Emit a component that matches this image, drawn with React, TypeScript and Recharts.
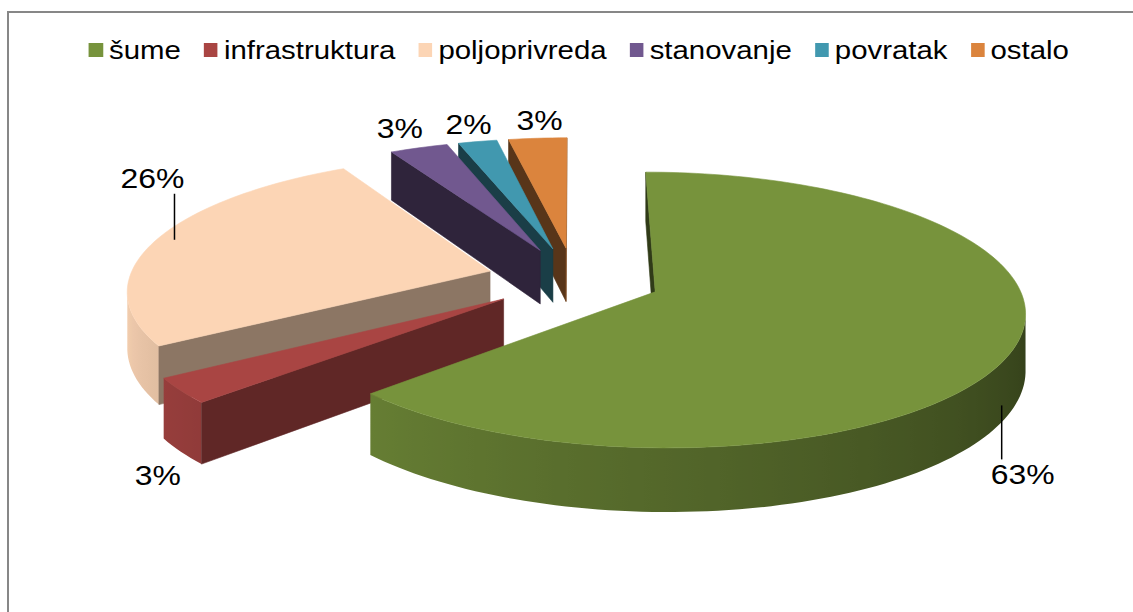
import { PieChart, Pie, Legend } from 'recharts'

// land use shares (%)
const NAMES = ['šume', 'infrastruktura', 'poljoprivreda', 'stanovanje', 'povratak', 'ostalo']
const SHARES = [63, 3, 26, 3, 2, 3]
const COLORS = ['#77933C', '#A94543', '#FCD5B5', '#71588F', '#4198AF', '#DB843D']

const data = NAMES.map((name, i) => ({ name, value: SHARES[i] }))

// 3d look
const CX = 574
const CY = 279
const RADIUS = 361
const FLAT = 0.366
const PERSP = 0.13
const DEPTH = 55
const EXPLODE = 0.242
const DRAW_ORDER = [5, 4, 3, 2, 1, 0]
const LABEL_GAP = [57, 13, 52, 10, 8, 8]
const LABEL_DX = [9, -23, -4, -19, -9, 2]
const LEADER_DX = [-21, 0, 22, 0, 0, 0]
const FONT = '"Liberation Sans", Arial, sans-serif'

const sind = (d: number) => Math.sin((d * Math.PI) / 180)
const cosd = (d: number) => Math.cos((d * Math.PI) / 180)

function shade(hex: string, k: number) {
  const n = parseInt(hex.slice(1), 16)
  const c = (v: number) => Math.min(255, Math.round(v * k))
  return `rgb(${c((n >> 16) & 255)},${c((n >> 8) & 255)},${c(n & 255)})`
}

function geometry(p: any) {
  const { cx, cy, outerRadius, startAngle, endAngle } = p
  // clockwise from 12 o'clock
  const t0 = 90 - startAngle
  const t1 = 90 - endAngle
  const tm = (t0 + t1) / 2
  const ou = EXPLODE * sind(tm)
  const ov = EXPLODE * cosd(tm)
  const proj = (u: number, v: number, h: number) => {
    const w = 1 / (1 + PERSP * v)
    return [cx + outerRadius * u * w, cy - outerRadius * FLAT * v * w + h * w]
  }
  const rim = (t: number, h: number) => proj(ou + sind(t), ov + cosd(t), h)
  return { t0, t1, tm, ou, ov, proj, rim }
}

const toPath = (pts: number[][]) =>
  pts.map((q, i) => `${i ? 'L' : 'M'}${q[0].toFixed(2)},${q[1].toFixed(2)}`).join('') + 'Z'

const wallLight = (t: number) => Math.max(0.35, Math.min(1, 0.4 + (0.5 * (t - 90)) / 150))

function Slice3D(p: any) {
  const color = COLORS[p.index]
  const { t0, t1, ou, ov, proj, rim } = geometry(p)
  const steps = Math.max(2, Math.ceil((t1 - t0) / 1.5))
  const ts = Array.from({ length: steps + 1 }, (_, k) => t0 + ((t1 - t0) * k) / steps)
  const seen = (t: number) => -cosd(t) / PERSP - (sind(t) * ou + cosd(t) * ov) - 1 > 0
  const wallTs = ts.filter(seen)

  const faces: { pts: number[][]; fill: string }[] = []
  const apexTop = proj(ou, ov, 0)
  const apexBot = proj(ou, ov, DEPTH)
  const cut = (t: number, nu: number, nv: number) => {
    const facing = nu * -ou + nv * (-1 / PERSP - ov)
    if (facing > 0) {
      faces.push({ pts: [apexTop, rim(t, 0), rim(t, DEPTH), apexBot], fill: shade(color, 0.5 + 0.1 * nu) })
    }
  }
  cut(t0, -cosd(t0), sind(t0))
  cut(t1, cosd(t1), -sind(t1))

  let wall = null
  if (wallTs.length > 1) {
    const topArc = wallTs.map((t) => rim(t, 0))
    const botArc = wallTs.map((t) => rim(t, DEPTH)).reverse()
    const xs = topArc.map((q) => q[0])
    const x1 = Math.min(...xs)
    const x2 = Math.max(...xs)
    const gid = `wall-${p.index}`
    const stops = wallTs
      .map((t, k) => ({ off: (xs[k] - x1) / Math.max(1, x2 - x1), col: shade(color, wallLight(t)) }))
      .sort((a, b) => a.off - b.off)
    wall = (
      <g>
        <defs>
          <linearGradient id={gid} gradientUnits="userSpaceOnUse" x1={x1} y1={0} x2={x2} y2={0}>
            {stops.map((s, k) => (
              <stop key={k} offset={s.off} stopColor={s.col} />
            ))}
          </linearGradient>
        </defs>
        <path d={toPath([...topArc, ...botArc])} fill={`url(#${gid})`} />
      </g>
    )
  }

  const top = [apexTop, ...ts.map((t) => rim(t, 0))]
  return (
    <g>
      {wall}
      {faces.map((f, i) => (
        <path key={i} d={toPath(f.pts)} fill={f.fill} stroke={f.fill} strokeWidth={0.6} strokeLinejoin="round" />
      ))}
      <path d={toPath(top)} fill={color} stroke={color} strokeWidth={0.6} strokeLinejoin="round" />
    </g>
  )
}

function PercentLabel(p: any) {
  const { tm, rim } = geometry(p)
  const i = p.index
  const gap = LABEL_GAP[i]
  const up = rim(tm, 0)
  const down = rim(tm, DEPTH)
  const front = cosd(tm) < 0
  const x = up[0] + LABEL_DX[i]
  const lx = x + LEADER_DX[i]
  const baseline = front ? down[1] + gap + 20 : up[1] - gap
  const leader = gap > 30
  return (
    <g>
      {leader && front && <line x1={lx} y1={down[1] - 2} x2={lx} y2={baseline - 25} stroke="#000" strokeWidth={1.5} />}
      {leader && !front && <line x1={lx} y1={up[1]} x2={lx} y2={baseline + 6} stroke="#000" strokeWidth={1.5} />}
      <text
        transform={`translate(${x},${baseline}) scale(1.14,1)`}
        textAnchor="middle"
        fontFamily={FONT}
        fontSize={28}
        fill="#000"
      >
        {`${Math.round(p.percent * 100)}%`}
      </text>
    </g>
  )
}

const renderLegend = () => (
  <div
    style={{
      display: 'flex',
      justifyContent: 'center',
      alignItems: 'center',
      transform: 'scaleX(1.13)',
      fontFamily: FONT,
      fontSize: 26,
      lineHeight: '30px',
      color: '#000',
    }}
  >
    {NAMES.map((n, i) => (
      <div key={n} style={{ display: 'flex', alignItems: 'center', marginRight: i < NAMES.length - 1 ? 20.4 : 0 }}>
        <span style={{ display: 'inline-block', width: 12.4, height: 14, background: COLORS[i], marginRight: 5.3 }} />
        <span>{n}</span>
      </div>
    ))}
  </div>
)

export default function App() {
  return (
    <div style={{ position: 'absolute', left: 0, top: 0, width: 1133, height: 612, overflow: 'hidden', background: '#fff' }}>
      <div
        style={{
          position: 'absolute',
          left: 7,
          top: 11,
          width: 1126,
          height: 601,
          borderTop: '2px solid #878787',
          borderLeft: '2px solid #878787',
        }}
      />
      <div style={{ position: 'absolute', left: 0, top: 0 }}>
        <PieChart width={1133} height={612} margin={{ top: 0, right: 0, bottom: 0, left: 0 }}>
          <Legend
            content={renderLegend}
            layout="horizontal"
            verticalAlign="middle"
            align="center"
            wrapperStyle={{ top: 35, left: 0, width: 1158 }}
          />
          {DRAW_ORDER.map((idx) => (
            <Pie
              key={idx}
              data={data}
              dataKey="value"
              nameKey="name"
              cx={CX}
              cy={CY}
              outerRadius={RADIUS}
              startAngle={90}
              endAngle={-270}
              fill="none"
              stroke="none"
              legendType="none"
              isAnimationActive={false}
              labelLine={false}
              label={(p: any) => (p.index === idx ? <Slice3D {...p} /> : <g />)}
            />
          ))}
          <Pie
            data={data}
            dataKey="value"
            nameKey="name"
            cx={CX}
            cy={CY}
            outerRadius={RADIUS}
            startAngle={90}
            endAngle={-270}
            fill="none"
            stroke="none"
            legendType="none"
            isAnimationActive={false}
            labelLine={false}
            label={(p: any) => <PercentLabel {...p} />}
          />
        </PieChart>
      </div>
    </div>
  )
}
